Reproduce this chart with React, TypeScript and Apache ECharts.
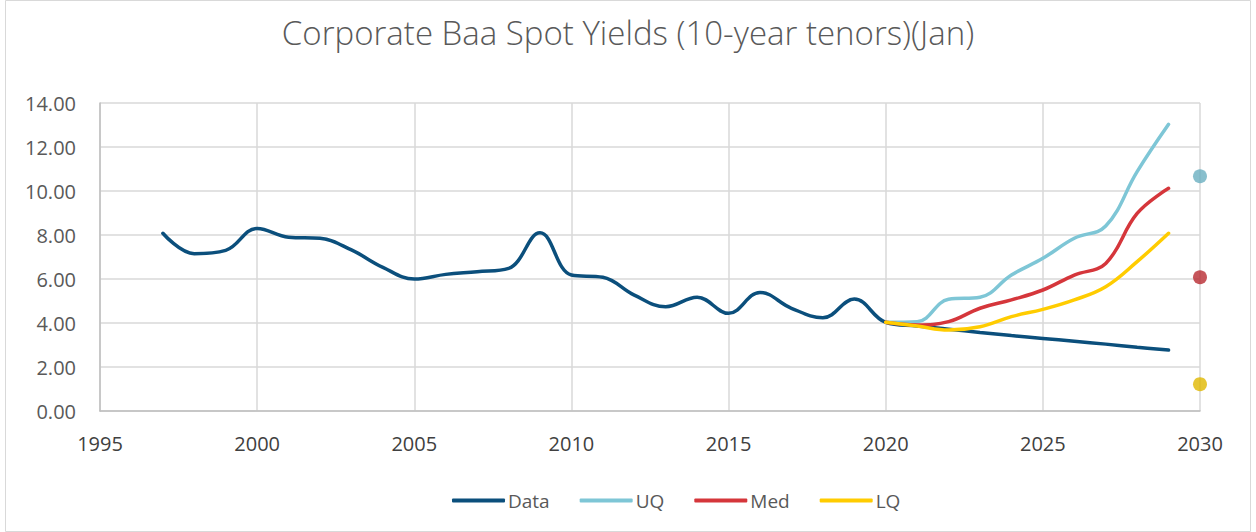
import React, { useEffect, useRef } from "react";
import * as echarts from "echarts";

const years = [1997, 1998, 1999, 2000, 2001, 2002, 2003, 2004, 2005, 2006, 2007, 2008, 2009, 2010, 2011, 2012, 2013, 2014, 2015, 2016, 2017, 2018, 2019, 2020, 2021, 2022, 2023, 2024, 2025, 2026, 2027, 2028, 2029];
const dataValues = [8.08, 7.15, 7.3, 8.3, 7.9, 7.85, 7.32, 6.53, 6.0, 6.21, 6.33, 6.48, 8.1, 6.18, 6.08, 5.27, 4.74, 5.17, 4.44, 5.39, 4.67, 4.24, 5.09, 4.03, 3.86, 3.72, 3.57, 3.43, 3.3, 3.17, 3.04, 2.9, 2.77];
const forecastYears = [2020, 2021, 2022, 2023, 2024, 2025, 2026, 2027, 2028, 2029];
const uqValues = [4.03, 4.06, 5.08, 5.17, 6.18, 6.94, 7.85, 8.41, 10.88, 13.03];
const medValues = [4.03, 3.91, 4.06, 4.67, 5.05, 5.5, 6.18, 6.71, 8.98, 10.12];
const lqValues = [4.03, 3.86, 3.68, 3.83, 4.29, 4.62, 5.05, 5.65, 6.79, 8.08];
const dotYear = 2030;
const uqDot = 10.67;
const medDot = 6.08;
const lqDot = 1.22;
const yTicks = [0, 2, 4, 6, 8, 10, 12, 14];

const pair = (xs: number[], ys: number[]) => xs.map((x, i) => [x, ys[i]]);

export default function App() {
  const ref = useRef<HTMLDivElement>(null);
  useEffect(() => {
    if (!ref.current) return;
    const chart = echarts.init(ref.current, undefined, { renderer: "svg" });
    const font = "'Open Sans', 'Noto Sans', sans-serif";
    const smooth = 0.4;
    chart.setOption({
      animation: false,
      backgroundColor: "#ffffff",
      title: {
        text: "Corporate Baa Spot Yields (10-year tenors)(Jan)",
        left: "center",
        top: 11,
        textStyle: { fontFamily: font, fontSize: 33, fontWeight: 300, color: "#595959" },
      },
      graphic: [
        {
          type: "rect",
          shape: { x: 5.5, y: 0.5, width: 1245, height: 531 },
          style: { fill: "none", stroke: "#d9d9d9", lineWidth: 1 },
          silent: true,
        },
      ],
      legend: {
        left: 447,
        top: 486,
        itemWidth: 53,
        itemHeight: 4,
        itemGap: 30,
        icon: "roundRect",
        data: ["Data", "UQ", "Med", "LQ"],
        textStyle: { fontFamily: font, fontSize: 19, color: "#595959", padding: [0, 0, 0, -2] },
      },
      grid: { left: 100, right: 56, top: 103, bottom: 121, containLabel: false },
      xAxis: {
        type: "value",
        min: 1995,
        max: 2030,
        interval: 5,
        axisLine: { show: true, lineStyle: { color: "#bfbfbf", width: 1.5 } },
        axisTick: { show: false },
        splitLine: { show: true, lineStyle: { color: "#d9d9d9", width: 1.5 } },
        axisLabel: { fontFamily: font, fontSize: 20, color: "#404040", margin: 22, formatter: (v: number) => String(v) },
      },
      yAxis: {
        type: "value",
        min: yTicks[0],
        max: yTicks[yTicks.length - 1],
        interval: 2,
        axisLine: { show: true, lineStyle: { color: "#bfbfbf", width: 1.5 } },
        axisTick: { show: false },
        splitLine: { show: true, lineStyle: { color: "#d9d9d9", width: 1.5 } },
        axisLabel: {
          fontFamily: font,
          fontSize: 20,
          color: "#595959",
          margin: 24,
          formatter: (v: number) => v.toFixed(2),
        },
      },
      series: [
        {
          name: "Data",
          type: "line",
          data: pair(years, dataValues),
          smooth,
          symbol: "none",
          lineStyle: { color: "#0b4f7c", width: 3.5, cap: "round" },
          itemStyle: { color: "#0b4f7c" },
          z: 2,
        },
        {
          name: "UQ",
          type: "line",
          data: pair(forecastYears, uqValues),
          smooth,
          symbol: "none",
          lineStyle: { color: "#7ec6d6", width: 3.5, cap: "round" },
          itemStyle: { color: "#7ec6d6" },
          z: 3,
        },
        {
          name: "Med",
          type: "line",
          data: pair(forecastYears, medValues),
          smooth,
          symbol: "none",
          lineStyle: { color: "#d5363b", width: 3.5, cap: "round" },
          itemStyle: { color: "#d5363b" },
          z: 4,
        },
        {
          name: "LQ",
          type: "line",
          data: pair(forecastYears, lqValues),
          smooth,
          symbol: "none",
          lineStyle: { color: "#ffcc00", width: 3.5, cap: "round" },
          itemStyle: { color: "#ffcc00" },
          z: 5,
        },
        {
          name: "UQ point",
          type: "scatter",
          data: [[dotYear, uqDot]],
          symbolSize: 14,
          itemStyle: { color: "#6aafc0" },
          z: 6,
        },
        {
          name: "Med point",
          type: "scatter",
          data: [[dotYear, medDot]],
          symbolSize: 14,
          itemStyle: { color: "#b82a31" },
          z: 6,
        },
        {
          name: "LQ point",
          type: "scatter",
          data: [[dotYear, lqDot]],
          symbolSize: 14,
          itemStyle: { color: "#e0b800" },
          z: 6,
        },
      ],
    });
    return () => chart.dispose();
  }, []);
  return <div ref={ref} style={{ position: "fixed", left: 0, top: 0, width: 1256, height: 532 }} />;
}
